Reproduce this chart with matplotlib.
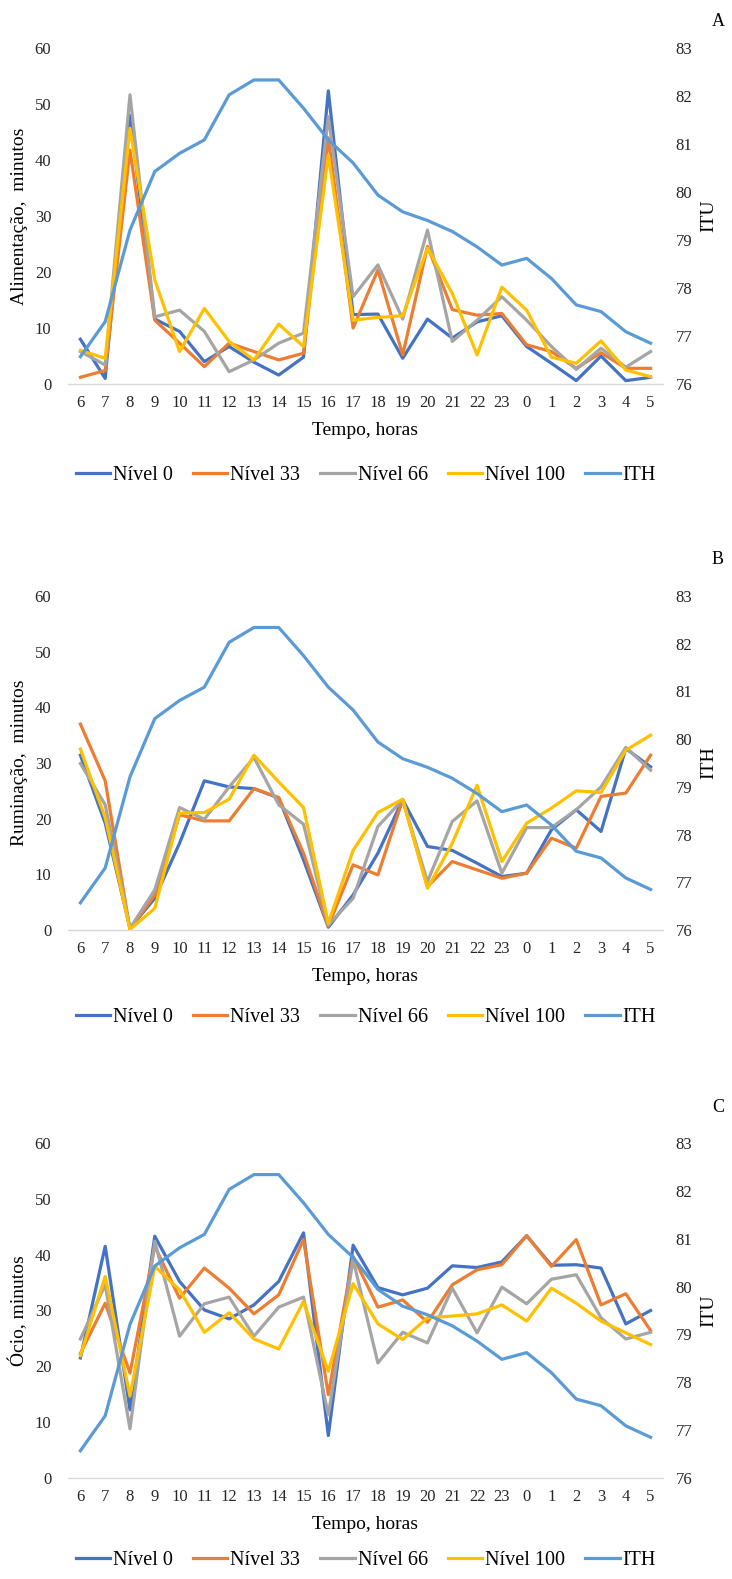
import matplotlib
matplotlib.use("Agg")
import matplotlib.pyplot as plt

plt.rcParams['font.family'] = ['Liberation Serif', 'DejaVu Serif']

# hours of the day (categories)
horas = ["6", "7", "8", "9", "10", "11", "12", "13", "14", "15", "16", "17",
         "18", "19", "20", "21", "22", "23", "0", "1", "2", "3", "4", "5"]

# ITH / ITU (same for all panels)
ith = [76.57, 77.30, 79.21, 80.43, 80.81, 81.09, 82.03, 82.34, 82.34, 81.75, 81.09, 80.61,
       79.94, 79.59, 79.41, 79.18, 78.86, 78.48, 78.62, 78.20, 77.65, 77.51, 77.09, 76.85]

# A - Alimentação
alim_n0 = [8.0, 1.0, 48.0, 11.6, 9.4, 4.0, 6.7, 3.9, 1.6, 4.8, 52.4, 12.4,
           12.5, 4.6, 11.6, 8.2, 11.1, 12.2, 6.7, 3.7, 0.6, 5.0, 0.6, 1.2]
alim_n33 = [1.2, 2.4, 41.8, 11.4, 7.3, 3.1, 7.3, 5.8, 4.3, 5.5, 44.0, 10.0,
            20.4, 5.2, 24.6, 13.3, 12.3, 12.6, 7.0, 5.8, 2.8, 5.6, 2.8, 2.8]
alim_n66 = [5.8, 3.4, 51.7, 12.0, 13.2, 9.4, 2.2, 4.3, 7.3, 9.1, 47.8, 15.6,
            21.3, 11.6, 27.5, 7.6, 11.4, 15.6, 11.4, 6.7, 2.6, 6.4, 3.0, 5.8]
alim_n100 = [6.0, 4.6, 45.7, 18.6, 5.8, 13.5, 7.6, 4.3, 10.7, 6.7, 40.9, 11.4,
             11.9, 12.2, 24.3, 16.2, 5.2, 17.3, 13.2, 4.8, 3.7, 7.7, 2.5, 1.3]

# B - Ruminação
rum_n0 = [31.4, 19.2, 0.3, 5.7, 15.6, 26.8, 25.7, 25.4, 23.7, 12.6, 0.5, 6.3,
          13.8, 23.4, 15.0, 14.3, 12.0, 9.6, 10.2, 18.0, 21.6, 17.7, 32.6, 29.3]
rum_n33 = [37.0, 26.8, 0.1, 6.3, 20.7, 19.6, 19.6, 25.4, 23.8, 13.8, 0.7, 11.7,
           9.9, 23.4, 7.8, 12.3, 10.8, 9.3, 10.2, 16.5, 14.7, 24.0, 24.6, 31.4]
rum_n66 = [29.9, 22.5, 0.3, 7.2, 22.0, 19.9, 25.7, 31.0, 22.5, 19.0, 0.9, 5.7,
           18.6, 23.4, 8.7, 19.5, 23.2, 10.2, 18.4, 18.4, 21.6, 25.7, 32.8, 28.7]
rum_n100 = [32.5, 20.2, 0.1, 3.9, 21.0, 21.1, 23.5, 31.4, 26.6, 22.0, 1.2, 14.3,
            21.1, 23.5, 7.5, 15.6, 26.0, 12.3, 19.2, 21.9, 25.0, 24.7, 32.3, 35.0]

# C - Ócio
ocio_n0 = [21.5, 41.5, 12.2, 43.3, 35.2, 30.1, 28.5, 31.0, 35.2, 43.9, 7.6, 41.7,
           34.1, 32.8, 34.0, 38.0, 37.7, 38.7, 43.4, 38.1, 38.2, 37.6, 27.6, 30.0]
ocio_n33 = [22.3, 31.3, 18.8, 41.5, 32.2, 37.6, 34.0, 29.4, 32.8, 42.7, 14.9, 39.7,
            30.6, 31.9, 27.9, 34.6, 37.3, 38.2, 43.4, 37.9, 42.7, 31.0, 33.0, 26.4]
ocio_n66 = [24.9, 34.6, 8.8, 42.4, 25.4, 31.2, 32.4, 25.4, 30.6, 32.4, 11.3, 39.1,
            20.6, 26.1, 24.2, 34.0, 26.0, 34.2, 31.2, 35.6, 36.4, 28.7, 24.9, 26.1]
ocio_n100 = [21.9, 36.1, 14.7, 37.9, 33.7, 26.1, 29.6, 24.9, 23.1, 31.6, 19.1, 34.8,
             27.6, 24.8, 28.7, 29.0, 29.4, 31.0, 28.1, 34.0, 31.3, 28.1, 26.0, 23.9]

niveis = ["Nível 0", "Nível 33", "Nível 66", "Nível 100"]
cores = ["#4472C4", "#ED7D31", "#A5A5A5", "#FFC000"]
cor_ith = "#5B9BD5"

paineis = [
    ("A", "Alimentação,  minutos", "ITU", [alim_n0, alim_n33, alim_n66, alim_n100]),
    ("B", "Ruminação,  minutos", "ITH", [rum_n0, rum_n33, rum_n66, rum_n100]),
    ("C", "Ócio, minutos", "ITU", [ocio_n0, ocio_n33, ocio_n66, ocio_n100]),
]

# axes boxes in pixels: (top of 60, bottom at 0)
caixas = [(48.3, 384), (596, 930), (1143, 1478)]
legenda_y = [475, 1017, 1560]
letra_y = [22, 560, 1107]

W, H = 732, 1579
fig = plt.figure(figsize=(W / 100, H / 100), dpi=100)

x = list(range(len(horas)))
lw = 2.3
for (letra, ylab, rlab, series), (top, bot), ly, ty in zip(paineis, caixas, legenda_y, letra_y):
    ax = fig.add_axes([68 / W, 1 - bot / H, (663 - 68) / W, (bot - top) / H])
    handles = []
    for nome, cor, vals in zip(niveis, cores, series):
        h, = ax.plot(x, vals, color=cor, lw=lw, label=nome)
        handles.append(h)
    ax.set_ylim(0, 60)
    ax.set_yticks(range(0, 61, 10))
    ax.set_xlim(-0.5, 23.5)
    ax.set_xticks(x)
    ax.set_xticklabels(horas)
    for s in ["top", "right", "left"]:
        ax.spines[s].set_visible(False)
    ax.spines["bottom"].set_color("#D9D9D9")
    ax.spines["bottom"].set_linewidth(1.0)
    ax.tick_params(axis="both", length=0, labelsize=12, colors="#262626")
    ax.tick_params(axis="y", pad=12)
    ax.tick_params(axis="x", pad=8)
    ax.set_ylabel(ylab, fontsize=14, labelpad=5)
    ax.set_xlabel("Tempo, horas", fontsize=14, labelpad=8)

    ax2 = ax.twinx()
    h2, = ax2.plot(x, ith, color=cor_ith, lw=lw, label="ITH")
    handles.append(h2)
    ax2.set_ylim(76, 83)
    ax2.set_yticks(range(76, 84))
    for s in ax2.spines.values():
        s.set_visible(False)
    ax2.tick_params(axis="y", length=0, labelsize=12, colors="#262626", pad=9)
    ax2.set_ylabel(rlab, fontsize=14, labelpad=6)

    fig.text(718 / W, 1 - ty / H, letra, fontsize=13, ha="center", va="center")

    fig.legend(handles, niveis + ["ITH"], loc="center", bbox_to_anchor=(0.5, 1 - ly / H),
               ncol=5, frameon=False, fontsize=14.5, handlelength=1.7,
               handletextpad=0.15, columnspacing=1.0)

fig.savefig("out.png", dpi=100)
